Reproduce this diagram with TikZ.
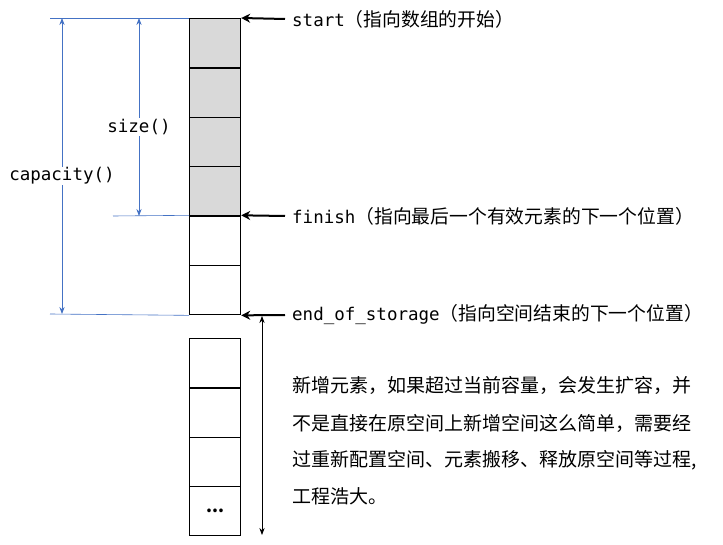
\documentclass[tikz,border=0pt]{standalone}
\usepackage{fontspec}
\setmainfont{Noto Sans CJK SC}
\setmonofont{DejaVu Sans Mono}
\definecolor{bl}{HTML}{4472C4}
\definecolor{cellg}{HTML}{D9D9D9}
\usetikzlibrary{arrows.meta}
\newcommand{\cj}[1]{{\fontsize{18.8}{20}\selectfont #1}}
\begin{document}
\begin{tikzpicture}[x=1pt,y=-1pt,
  cell/.style={draw,line width=1.2pt,minimum width=51pt,minimum height=49.5pt,anchor=north west,inner sep=0},
  bline/.style={draw=bl,line width=0.6pt},
  barrow/.style={bl,line width=0.8pt,{Stealth[length=7pt]}-{Stealth[length=7pt]}},
  karrow/.style={line width=2pt,-{Stealth[length=9pt,width=9pt]}},
  lab/.style={anchor=west,inner sep=0,font=\fontsize{17.5}{20}\selectfont},
  para/.style={anchor=west,inner sep=0,font=\fontsize{19}{22}\selectfont}]
\useasboundingbox (0,0) rectangle (723,545);
\foreach \i/\f in {0/cellg,1/cellg,2/cellg,3/cellg,4/white,5/white}
  \node[cell,fill=\f] (c\i) at (189,{18+49.33*\i}) {};
\foreach \i in {0,...,3}
  \node[cell] (d\i) at (189,{338+49.25*\i}) {};
\node[font=\bfseries\fontsize{17}{18}\selectfont] at (d3.center) {...};
\coordinate (t) at (c0.north west);
\coordinate (m) at (c4.north west);
\coordinate (b) at (c5.south west);
\coordinate (tl) at (50,18); \coordinate (bl2) at (50,314); \coordinate (ml) at (113,216);
\draw[bline] (tl) -- (t); \draw[bline] (bl2) -- (b); \draw[bline] (ml) -- (m);
\coordinate (ca1) at (62,18); \coordinate (ca2) at (62,314);
\coordinate (sa1) at (139,18); \coordinate (sa2) at (139,216);
\draw[barrow] (ca1) -- (ca2);
\draw[barrow] (sa1) -- (sa2);
\node[fill=white,inner sep=1pt,font=\ttfamily\fontsize{17.5}{20}\selectfont] (cap) at (62,176) {capacity()};
\node[fill=white,inner sep=1pt,font=\ttfamily\fontsize{17.5}{20}\selectfont] (sz) at (139,127) {size()};
\node[lab] (l1) at (292,19) {\texttt{start}\cj{（指向数组的开始）}};
\node[lab] (l2) at (292,216) {\texttt{finish}\cj{（指向最后一个有效元素的下一个位置）}};
\node[lab] (l3) at (292,315) {\texttt{end\_of\_storage}\cj{（指向空间结束的下一个位置）}};
\draw[karrow] (l1.west) ++(-7,0) -- (c0.north east);
\draw[karrow] (l2.west) ++(-7,0) -- (c4.north east);
\draw[karrow] (l3.west) ++(-7,0) -- (c5.south east);
\coordinate (v1) at (262,316); \coordinate (v2) at (262,535);
\draw[line width=0.8pt,{Stealth[length=7pt]}-{Stealth[length=7pt]}] (v1) -- (v2);
\node[para] (p1) at (292,385) {新增元素，如果超过当前容量，会发生扩容，并};
\node[para] (p2) at (292,423) {不是直接在原空间上新增空间这么简单，需要经};
\node[para] (p3) at (292,460) {过重新配置空间、元素搬移、释放原空间等过程,};
\node[para] (p4) at (292,496) {工程浩大。};
\end{tikzpicture}
\end{document}
